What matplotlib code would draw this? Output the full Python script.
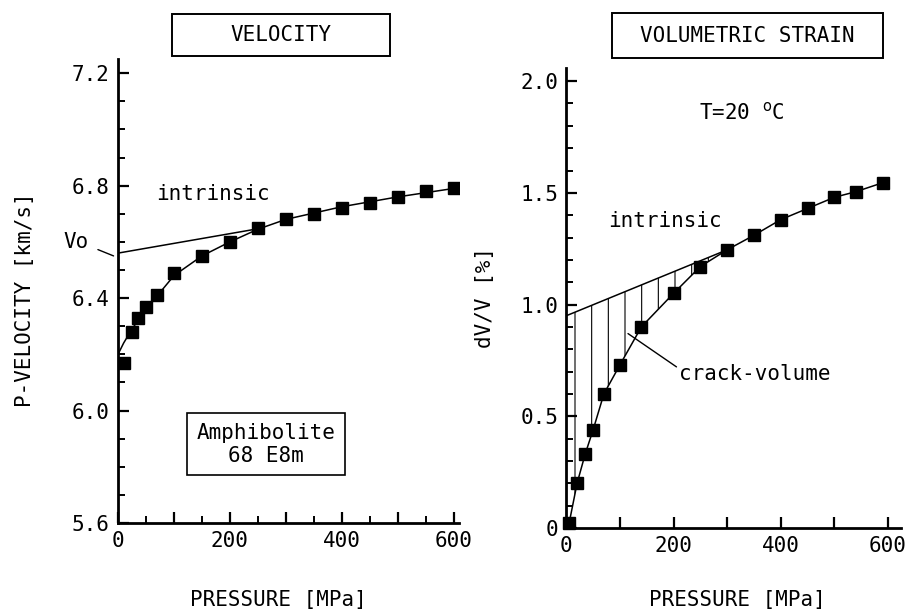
import matplotlib
matplotlib.use("Agg")
import matplotlib.pyplot as plt
import numpy as np
from matplotlib.ticker import MultipleLocator
from matplotlib.patches import Rectangle

plt.rcParams['font.family'] = ['DejaVu Sans Mono']
plt.rcParams['hatch.linewidth'] = 0.8

# velocity data (left panel)
vel_p = [10, 25, 35, 50, 70, 100, 150, 200, 250, 300, 350, 400, 450, 500, 550, 600]
vel_v = [6.17, 6.28, 6.33, 6.37, 6.41, 6.49, 6.55, 6.60, 6.65, 6.68, 6.70, 6.72, 6.74, 6.76, 6.78, 6.79]
vel_fit_p = [0, 10, 25, 50, 75, 100, 150, 200, 250, 300, 400, 500, 600]
vel_fit_v = [6.20, 6.24, 6.29, 6.36, 6.42, 6.48, 6.55, 6.60, 6.645, 6.68, 6.725, 6.76, 6.79]
vel_intr_p = [0, 260]
vel_intr_v = [6.56, 6.65]

# volumetric strain data (right panel)
str_p = [5, 20, 35, 50, 70, 100, 140, 200, 250, 300, 350, 400, 450, 500, 540, 590]
str_v = [0.02, 0.20, 0.33, 0.44, 0.60, 0.73, 0.90, 1.05, 1.17, 1.245, 1.31, 1.38, 1.43, 1.48, 1.505, 1.545]
str_fit_p = [0] + str_p
str_fit_v = [0] + str_v
str_intr_p = [0, 300]
str_intr_v = [0.95, 1.245]

fig = plt.figure(figsize=(9.15, 6.16), dpi=100)
ax1 = fig.add_axes([0.129, 0.151, 0.373, 0.753])
ax2 = fig.add_axes([0.619, 0.143, 0.366, 0.747])

fs = 15
for ax in (ax1, ax2):
    ax.spines['top'].set_visible(False)
    ax.spines['right'].set_visible(False)
    ax.spines['left'].set_linewidth(2)
    ax.spines['bottom'].set_linewidth(2)
    ax.tick_params(direction='in', width=1.6, length=8, labelsize=fs, pad=6)
    ax.tick_params(which='minor', direction='in', width=1.4, length=5)

# ---- left: velocity
ax1.plot(vel_fit_p, vel_fit_v, color='black', lw=1.1)
ax1.plot(vel_p, vel_v, 's', color='black', ms=8)
ax1.plot(vel_intr_p, vel_intr_v, color='black', lw=1.1)
ax1.set_xlim(0, 610)
ax1.set_ylim(5.6, 7.25)
ax1.set_xticks(range(0, 601, 100))
ax1.set_xticklabels(['0', '', '200', '', '400', '', '600'])
ax1.xaxis.set_minor_locator(MultipleLocator(50))
ax1.set_yticks([5.6, 6.0, 6.4, 6.8, 7.2])
ax1.set_yticklabels(['5.6', '6.0', '6.4', '6.8', '7.2'])
ax1.yaxis.set_minor_locator(MultipleLocator(0.1))
ax1.text(169, 6.77, 'intrinsic', fontsize=fs, ha='center', va='center')
ax1.annotate('Vo', xy=(-8, 6.55), xytext=(-75, 6.6), fontsize=fs,
             ha='center', va='center', annotation_clip=False,
             arrowprops=dict(arrowstyle='-', color='black', lw=1, shrinkA=5, shrinkB=0,
                             relpos=(1.0, 0.3)))
ax1.text(265, 5.88, 'Amphibolite\n68 E8m', fontsize=fs, ha='center', va='center',
         linespacing=1.2,
         bbox=dict(boxstyle='square,pad=0.45', fc='white', ec='black', lw=1.2))

# ---- right: volumetric strain
fill_x = np.array([p for p in str_fit_p if p <= 300])
fill_lo = np.interp(fill_x, str_fit_p, str_fit_v)
fill_hi = np.interp(fill_x, str_intr_p, str_intr_v)
ax2.fill_between(fill_x, fill_lo, fill_hi, facecolor='none', edgecolor='black',
                 hatch='|', lw=0)
ax2.plot(str_fit_p, str_fit_v, color='black', lw=1.1)
ax2.plot(str_p, str_v, 's', color='black', ms=8, clip_on=False)
ax2.plot(str_intr_p, str_intr_v, color='black', lw=1.1)
ax2.set_xlim(0, 625)
ax2.set_ylim(0, 2.06)
ax2.set_xticks(range(0, 601, 100))
ax2.set_xticklabels(['0', '', '200', '', '400', '', '600'])
ax2.set_yticks([0, 0.5, 1.0, 1.5, 2.0])
ax2.set_yticklabels(['0', '0.5', '1.0', '1.5', '2.0'])
ax2.yaxis.set_minor_locator(MultipleLocator(0.1))
ax2.text(184, 1.375, 'intrinsic', fontsize=fs, ha='center', va='center')
ax2.text(328, 1.86, 'T=20 $^{\\mathrm{o}}$C', fontsize=fs, ha='center', va='center')
ax2.annotate('crack-volume', xy=(115, 0.87), xytext=(352, 0.69), fontsize=fs,
             ha='center', va='center',
             arrowprops=dict(arrowstyle='-', color='black', lw=1, shrinkA=0, shrinkB=0,
                             relpos=(0.0, 0.75)))

# titles in boxes (pixel boxes converted to figure fractions)
W, H = 915, 616
for (x0, x1, y0, y1), title in [((172, 390, 14, 56), 'VELOCITY'),
                                ((612, 883, 13, 58), 'VOLUMETRIC STRAIN')]:
    fig.patches.append(Rectangle((x0 / W, 1 - y1 / H), (x1 - x0) / W, (y1 - y0) / H,
                                 transform=fig.transFigure, fill=False,
                                 ec='black', lw=1.4))
    fig.text((x0 + x1) / 2 / W, 1 - (y0 + y1) / 2 / H, title, fontsize=fs,
             ha='center', va='center')

# axis labels
fig.text(278 / W, 1 - 600 / H, 'PRESSURE [MPa]', fontsize=fs, ha='center', va='center')
fig.text(737 / W, 1 - 600 / H, 'PRESSURE [MPa]', fontsize=fs, ha='center', va='center')
fig.text(25 / W, 1 - 300 / H, 'P-VELOCITY [km/s]', fontsize=fs, ha='center', va='center', rotation=90)
fig.text(485 / W, 1 - 297 / H, 'dV/V [%]', fontsize=fs, ha='center', va='center', rotation=90)

fig.savefig('out.png', dpi=100)
